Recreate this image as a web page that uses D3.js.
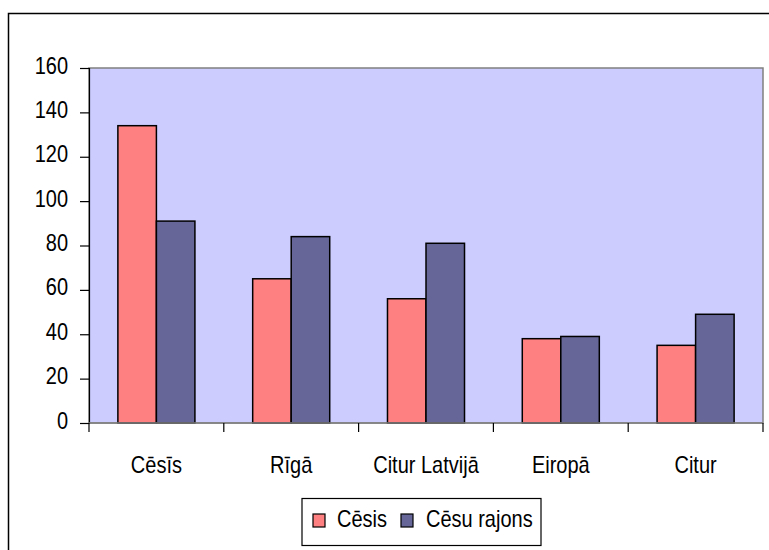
<!DOCTYPE html>
<html>
<head>
<meta charset="utf-8">
<script src="https://cdn.jsdelivr.net/npm/d3@7"></script>
<style>
  html, body { margin: 0; padding: 0; background: #fff; }
  svg { display: block; font-family: "Liberation Sans", Arial, sans-serif; }
</style>
</head>
<body>
<svg id="chart" width="769" height="550"></svg>
<script>
// Place of residence, two series
const categories = ["Cēsīs", "Rīgā", "Citur Latvijā", "Eiropā", "Citur"];
const seriesNames = ["Cēsis", "Cēsu rajons"];
const cesis = [134, 65, 56, 38, 35];
const cesuRajons = [91, 84, 81, 39, 49];
const yTicks = [0, 20, 40, 60, 80, 100, 120, 140, 160];
const colors = ["#FF8080", "#666699"];

const svg = d3.select("#chart");
const W = 769, H = 550;
const plot = { left: 89, top: 68, right: 763, bottom: 423 };
const FONT = 20, STRETCH = 1.2;   // text is drawn slightly tall

// Outer chart frame (runs past the right and bottom edges)
svg.append("rect")
  .attr("x", 8.5).attr("y", 13.5)
  .attr("width", W + 10).attr("height", H + 10)
  .attr("fill", "#fff").attr("stroke", "#000").attr("stroke-width", 1.5);

const x0 = d3.scaleBand()
  .domain(categories)
  .range([plot.left, plot.right])
  .paddingInner(0).paddingOuter(0);

const y = d3.scaleLinear().domain([0, 160]).range([plot.bottom, plot.top]);

// Plot area background
svg.append("rect")
  .attr("x", plot.left).attr("y", plot.top)
  .attr("width", plot.right - plot.left).attr("height", plot.bottom - plot.top)
  .attr("fill", "#CCCCFF").attr("stroke", "#808080").attr("stroke-width", 1.5);

// Bars: the gap between groups is 150% of one bar
const barW = x0.bandwidth() / 3.5;
const rows = categories.map((c, i) => ({ c, vals: [cesis[i], cesuRajons[i]] }));
const g = svg.append("g");
rows.forEach(r => {
  const start = x0(r.c) + barW * 0.75;
  r.vals.forEach((v, j) => {
    g.append("rect")
      .attr("x", start + j * barW)
      .attr("y", y(v))
      .attr("width", barW)
      .attr("height", y(0) - y(v))
      .attr("fill", colors[j])
      .attr("stroke", "#000")
      .attr("stroke-width", 1.5);
  });
});

// Y axis
const yAxis = d3.axisLeft(y).tickValues(yTicks).tickSize(9).tickPadding(12);
const ya = svg.append("g").attr("transform", `translate(${plot.left},0)`).call(yAxis);
ya.select(".domain").attr("stroke", "#000").attr("stroke-width", 1.2);
ya.selectAll(".tick line").attr("stroke", "#000").attr("stroke-width", 1.2);
ya.selectAll(".tick text")
  .attr("font-size", FONT).attr("fill", "#000")
  .attr("font-family", "Liberation Sans, Arial, sans-serif")
  .attr("dy", null).attr("y", 0)
  .attr("transform", `translate(0,5) scale(1,${STRETCH})`);

// X axis: category boundary ticks, labels centred in each band
const xa = svg.append("g").attr("transform", `translate(0,${plot.bottom})`);
xa.append("line").attr("x1", plot.left).attr("x2", plot.right)
  .attr("stroke", "#808080").attr("stroke-width", 1.5);
const bounds = categories.map(c => x0(c)).concat([plot.right]);
xa.selectAll("line.tick").data(bounds).join("line")
  .attr("class", "tick")
  .attr("x1", d => d).attr("x2", d => d)
  .attr("y1", 0).attr("y2", 9)
  .attr("stroke", "#000").attr("stroke-width", 1.2);
xa.selectAll("text").data(categories).join("text")
  .attr("transform", d => `translate(${x0(d) + x0.bandwidth() / 2},50) scale(1,${STRETCH})`)
  .attr("text-anchor", "middle")
  .attr("font-size", FONT)
  .attr("fill", "#000")
  .text(d => d);

// Legend
const lg = svg.append("g");
lg.append("rect").attr("x", 302).attr("y", 498.5).attr("width", 239).attr("height", 47)
  .attr("fill", "#fff").attr("stroke", "#000").attr("stroke-width", 1.2);
const items = [{ x: 313, tx: 337 }, { x: 401, tx: 426 }];
seriesNames.forEach((n, i) => {
  lg.append("rect").attr("x", items[i].x).attr("y", 514).attr("width", 12).attr("height", 13)
    .attr("fill", colors[i]).attr("stroke", "#000").attr("stroke-width", 1.2);
  lg.append("text")
    .attr("transform", `translate(${items[i].tx},527) scale(1,${STRETCH})`)
    .attr("font-size", FONT).attr("fill", "#000").text(n);
});
</script>
</body>
</html>
